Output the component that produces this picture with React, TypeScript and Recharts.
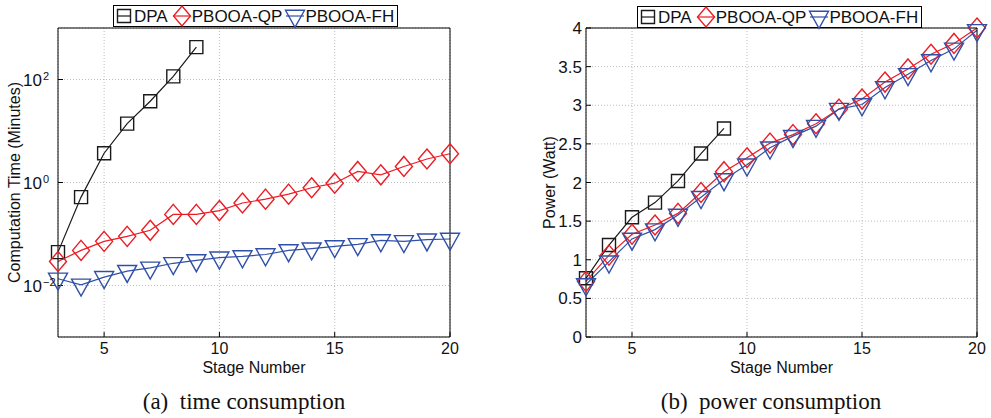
import { LineChart, Line, XAxis, YAxis, CartesianGrid } from 'recharts'

// stage numbers on the x axis
const stages = [3, 4, 5, 6, 7, 8, 9, 10, 11, 12, 13, 14, 15, 16, 17, 18, 19, 20]
const dpaStages = [3, 4, 5, 6, 7, 8, 9]
const xTicks = [5, 10, 15, 20]

// (a) computation time, minutes (log axis)
const dpaTime = [0.0445, 0.52, 3.7, 13.9, 37.8, 115, 426]
const qpTime = [0.0293, 0.048, 0.072, 0.09, 0.118, 0.24, 0.24, 0.285, 0.4, 0.475, 0.594, 0.79, 0.97, 1.64, 1.41, 2.05, 2.86, 3.62]
const fhTime = [0.0135, 0.0103, 0.0145, 0.019, 0.022, 0.027, 0.0307, 0.0347, 0.0367, 0.04, 0.048, 0.052, 0.0575, 0.063, 0.075, 0.072, 0.0777, 0.08]
const timeTicks = [0.01, 1, 100]

// (b) power, watt
const dpaPower = [0.76, 1.19, 1.55, 1.74, 2.02, 2.375, 2.7]
const qpPower = [0.72, 1.06, 1.33, 1.45, 1.6, 1.87, 2.14, 2.32, 2.51, 2.62, 2.76, 2.95, 3.08, 3.3, 3.47, 3.66, 3.8, 4.0]
const fhPower = [0.68, 0.975, 1.27, 1.39, 1.58, 1.81, 2.04, 2.23, 2.45, 2.6, 2.73, 2.95, 3.01, 3.23, 3.4, 3.58, 3.73, 3.97]
const powerTicks = [0, 0.5, 1, 1.5, 2, 2.5, 3, 3.5, 4]

const BLACK = '#1a1a1a'
const RED = '#ec1c24'
const BLUE = '#3050a8'
const SANS = '"Liberation Sans", Arial, sans-serif'

const toRows = (xs: number[], ys: number[]) => xs.map((x, i) => ({ x, y: ys[i] }))

type Shape = 'square' | 'diamond' | 'triangle'

function markerPath(shape: Shape, cx: number, cy: number) {
  if (shape === 'square') return `M${cx - 6.5},${cy - 6.5}h13v13h-13Z`
  if (shape === 'diamond') return `M${cx},${cy - 10}L${cx + 8.5},${cy}L${cx},${cy + 10}L${cx - 8.5},${cy}Z`
  // downward triangle, data point at the centroid
  return `M${cx - 9.5},${cy - 5.7}L${cx + 9.5},${cy - 5.7}L${cx},${cy + 11.3}Z`
}

const makeDot = (shape: Shape, color: string) => (p: any) => {
  const { cx, cy, index } = p
  if (cx == null || cy == null) return <g key={`${shape}-${index}`} />
  return <path key={`${shape}-${index}`} d={markerPath(shape, cx, cy)} fill="none" stroke={color} strokeWidth={1.4} />
}

const legendItems: { name: string; color: string; shape: Shape; gap: number }[] = [
  { name: 'DPA', color: BLACK, shape: 'square', gap: 4 },
  { name: 'PBOOA-QP', color: RED, shape: 'diamond', gap: 3 },
  { name: 'PBOOA-FH', color: BLUE, shape: 'triangle', gap: 0 },
]

function LegendBox({ left, top }: { left: number; top: number }) {
  return (
    <div
      style={{
        position: 'absolute', left, top, width: 285, height: 22, boxSizing: 'border-box',
        border: '1px solid #000', background: '#fff', display: 'flex', alignItems: 'center',
        fontFamily: SANS, fontSize: 17, lineHeight: 1, color: '#111', whiteSpace: 'nowrap',
      }}
    >
      {legendItems.map((it) => (
        <span key={it.name} style={{ display: 'flex', alignItems: 'center' }}>
          <svg width={20} height={20} style={{ overflow: 'visible', display: 'block' }}>
            <line x1={it.shape === 'square' ? 3.5 : 1} y1={10} x2={it.shape === 'square' ? 16.5 : 19} y2={10} stroke={it.color} strokeWidth={1.2} />
            <path d={markerPath(it.shape, 10, 10)} fill="none" stroke={it.color} strokeWidth={1.4} />
          </svg>
          <span style={{ marginRight: it.gap }}>{it.name}</span>
        </span>
      ))}
    </div>
  )
}

function PowTick({ x, y, payload }: any) {
  const e = Math.round(Math.log10(payload.value))
  return (
    <g>
      <text x={x} y={y} dy="0.36em" textAnchor="end" fontSize={17} fontFamily={SANS} fill="#111">10</text>
      <text x={x + 1} y={y} textAnchor="start" fontSize={11} fontFamily={SANS} fill="#111">{e < 0 ? `−${-e}` : e}</text>
    </g>
  )
}

const tickStyle = { fontSize: 16, fill: '#111', fontFamily: SANS }
const yTickStyle = { fontSize: 17, fill: '#111', fontFamily: SANS }
const W = 462
const H = 380
const margin = { top: 27, right: 12, bottom: 0, left: 0 }
const xLabel = (value: string) => ({ value, position: 'insideBottom' as const, offset: 7, fill: '#111', fontSize: 16, fontFamily: SANS })

function Frame({ log }: { log: boolean }) {
  // inward ticks on the top and right sides, like the MATLAB box
  const yProps = log
    ? { scale: 'log' as const, domain: [0.001, 1000], ticks: timeTicks }
    : { domain: [0, 4], ticks: powerTicks }
  return [
    <XAxis key="xt" xAxisId="top" orientation="top" type="number" dataKey="x" domain={[3, 20]} ticks={xTicks}
      height={1} tick={false} tickSize={-5} stroke="#000" allowDataOverflow />,
    <YAxis key="yr" yAxisId="right" orientation="right" type="number" width={1} tick={false} tickSize={-5}
      stroke="#000" allowDataOverflow {...yProps} />,
  ]
}

export default function App() {
  return (
    <div style={{ position: 'absolute', left: 0, top: 0, width: 991, height: 418, background: '#fff' }}>
      {/* (a) time consumption */}
      <div style={{ position: 'absolute', left: 0, top: 0 }}>
        <LineChart width={470} height={H} margin={{ ...margin, right: 19 }}>
          <CartesianGrid stroke="#bdbdbd" strokeDasharray="1 2" />
          <XAxis type="number" dataKey="x" domain={[3, 20]} ticks={xTicks} tickSize={-5} tickMargin={11} height={43}
            tick={tickStyle} stroke="#000" label={xLabel('Stage Number')} />
          <YAxis type="number" scale="log" domain={[0.001, 1000]} ticks={timeTicks} width={58}
            tickSize={-5} tickMargin={21} tick={<PowTick />} stroke="#000"
            label={{ value: 'Computation Time (Minutes)', angle: -90, position: 'insideLeft', offset: 14, fill: '#111', fontSize: 16, fontFamily: SANS, style: { textAnchor: 'middle' } }} />
          {Frame({ log: true })}
          <Line data={toRows(dpaStages, dpaTime)} dataKey="y" type="linear" stroke={BLACK} strokeWidth={1.2}
            dot={makeDot('square', BLACK)} activeDot={false} isAnimationActive={false} />
          <Line data={toRows(stages, qpTime)} dataKey="y" type="linear" stroke={RED} strokeWidth={1.2}
            dot={makeDot('diamond', RED)} activeDot={false} isAnimationActive={false} />
          <Line data={toRows(stages, fhTime)} dataKey="y" type="linear" stroke={BLUE} strokeWidth={1.2}
            dot={makeDot('triangle', BLUE)} activeDot={false} isAnimationActive={false} />
        </LineChart>
      </div>

      {/* (b) power consumption */}
      <div style={{ position: 'absolute', left: 528, top: 0 }}>
        <LineChart width={W} height={H} margin={margin}>
          <CartesianGrid stroke="#bdbdbd" strokeDasharray="1 2" />
          <XAxis type="number" dataKey="x" domain={[3, 20]} ticks={xTicks} tickSize={-5} tickMargin={11} height={43}
            tick={tickStyle} stroke="#000" label={xLabel('Stage Number')} />
          <YAxis type="number" domain={[0, 4]} ticks={powerTicks} width={58}
            tickSize={-5} tickMargin={9} tick={yTickStyle} stroke="#000"
            label={{ value: 'Power (Watt)', angle: -90, position: 'insideLeft', offset: 21, fill: '#111', fontSize: 16, fontFamily: SANS, style: { textAnchor: 'middle' } }} />
          {Frame({ log: false })}
          <Line data={toRows(dpaStages, dpaPower)} dataKey="y" type="linear" stroke={BLACK} strokeWidth={1.2}
            dot={makeDot('square', BLACK)} activeDot={false} isAnimationActive={false} />
          <Line data={toRows(stages, qpPower)} dataKey="y" type="linear" stroke={RED} strokeWidth={1.2}
            dot={makeDot('diamond', RED)} activeDot={false} isAnimationActive={false} />
          <Line data={toRows(stages, fhPower)} dataKey="y" type="linear" stroke={BLUE} strokeWidth={1.2}
            dot={makeDot('triangle', BLUE)} activeDot={false} isAnimationActive={false} />
        </LineChart>
      </div>

      <LegendBox left={113} top={5} />
      <LegendBox left={637} top={6} />

      <div style={{ position: 'absolute', left: 94, top: 389, width: 300, textAlign: 'center', fontFamily: '"Liberation Serif", serif', fontSize: 23, lineHeight: '26px', color: '#111' }}>
        (a)&nbsp; time consumption
      </div>
      <div style={{ position: 'absolute', left: 621, top: 389, width: 300, textAlign: 'center', fontFamily: '"Liberation Serif", serif', fontSize: 23, lineHeight: '26px', color: '#111' }}>
        (b)&nbsp; power consumption
      </div>
    </div>
  )
}
